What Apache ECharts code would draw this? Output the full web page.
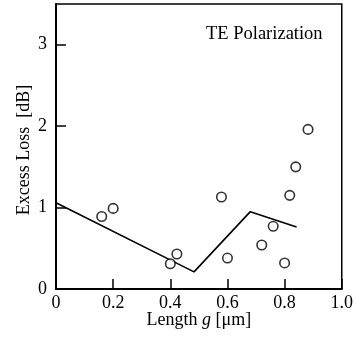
<!DOCTYPE html>
<html><head><meta charset="utf-8">
<script src="https://cdn.jsdelivr.net/npm/echarts@6/dist/echarts.min.js"></script>
<style>html,body{margin:0;padding:0;background:#fff}#c{width:356px;height:337px}</style>
</head><body><div id="c"></div>
<script>
// measured points (circles)
const pointX = [0.16, 0.20, 0.40, 0.423, 0.579, 0.60, 0.72, 0.76, 0.80, 0.818, 0.839, 0.882];
const pointY = [0.89, 0.99, 0.31, 0.43, 1.13, 0.38, 0.54, 0.77, 0.32, 1.15, 1.50, 1.96];
// calculated curve
const lineX = [0, 0.483, 0.68, 0.842];
const lineY = [1.06, 0.21, 0.95, 0.76];
const titleText = 'TE Polarization';
const xName = 'Length {i|g} [μm]';
const yName = 'Excess Loss  [dB]';

const font = '"Liberation Serif","DejaVu Serif",serif';
const chart = echarts.init(document.getElementById('c'), null, {renderer: 'canvas'});
chart.setOption({
  animation: false,
  backgroundColor: '#fff',
  title: {text: titleText, left: 201, top: 20,
    textStyle: {fontFamily: font, fontSize: 18.5, fontWeight: 'normal', color: '#000'}},
  grid: {left: 56, right: 14, top: 4, bottom: 48, show: true, borderColor: '#000', borderWidth: 1.5},
  xAxis: {
    type: 'value', min: 0, max: 1, interval: 0.2,
    axisLine: {lineStyle: {color: '#000', width: 2}},
    axisTick: {inside: true, length: 10, lineStyle: {color: '#000', width: 1.5}},
    splitLine: {show: false},
    axisLabel: {fontFamily: font, fontSize: 18, color: '#000', margin: 5,
      formatter: v => v === 0 ? '0' : v.toFixed(1)},
    name: xName, nameLocation: 'middle', nameGap: 22, nameMoveOverlap: false,
    nameTextStyle: {fontFamily: font, fontSize: 18, color: '#000',
      rich: {i: {fontFamily: font, fontSize: 18, fontStyle: 'italic', color: '#000'}}}
  },
  yAxis: {
    type: 'value', min: 0, max: 3.5, interval: 1,
    axisLine: {lineStyle: {color: '#000', width: 2}},
    axisTick: {inside: true, length: 10, lineStyle: {color: '#000', width: 1.5}},
    splitLine: {show: false},
    axisLabel: {fontFamily: font, fontSize: 18, color: '#000', margin: 9, showMaxLabel: false,
      formatter: v => Number.isInteger(v) ? String(v) : ''},
    name: yName, nameLocation: 'middle', nameGap: 23, nameMoveOverlap: false,
    nameTextStyle: {fontFamily: font, fontSize: 18, color: '#000', padding: [0, 7, 0, 0]}
  },
  series: [
    {type: 'line', data: lineX.map((x, i) => [x, lineY[i]]), symbol: 'none',
      lineStyle: {color: '#000', width: 1.6}, z: 2},
    {type: 'scatter', data: pointX.map((x, i) => [x, pointY[i]]), symbol: 'circle', symbolSize: 9.5,
      itemStyle: {color: '#fff', borderColor: '#000', borderWidth: 1.6}, z: 3}
  ]
});
</script></body></html>
